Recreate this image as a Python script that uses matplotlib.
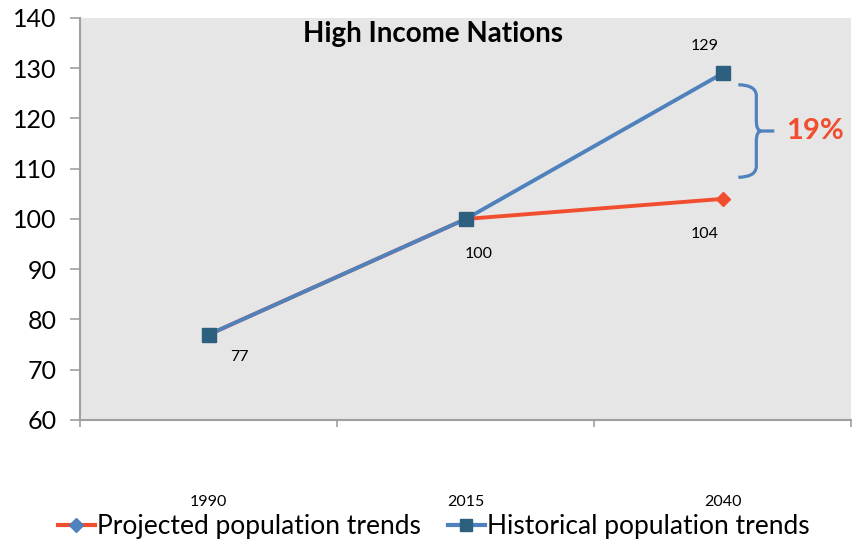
import matplotlib
matplotlib.use("Agg")
import matplotlib.pyplot as plt
from matplotlib.path import Path
from matplotlib.patches import PathPatch
from matplotlib.lines import Line2D

years = ["1990", "2015", "2040"]
projected = [77, 100, 104]
historical = [77, 100, 129]
gap_label = "19%"

plt.rcParams['font.family'] = ['Lato', 'DejaVu Sans']

blue = '#4f81bd'
red = '#f04e2e'
teal = '#2d5f7f'

fig = plt.figure(figsize=(8.54, 5.44), dpi=100)
ax = fig.add_axes([0.094, 0.228, 0.903, 0.739])
ax.set_facecolor('#e6e6e6')

x = list(range(len(years)))
ax.plot(x, projected, color=red, lw=2.8, marker='D', ms=7, mfc=red, mec=red, zorder=3)
ax.plot(x, historical, color=blue, lw=2.8, marker='s', ms=10, mfc=teal, mec=teal, zorder=4)

# value labels
lbl = dict(fontsize=11.5, ha='center', va='center')
ax.text(x[0] + 0.12, historical[0] - 4.5, str(historical[0]), **lbl)
ax.text(x[1] + 0.05, projected[1] - 7, str(projected[1]), **lbl)
ax.text(x[2] - 0.07, projected[2] - 7, str(projected[2]), **lbl)
ax.text(x[2] - 0.07, historical[2] + 5.5, str(historical[2]), **lbl)

# curly brace between the two 2040 values
top, bot = 126.7, 108.3
mid = (top + bot) / 2
x0, x1, x2 = 2.06, 2.13, 2.2
brace = Path([(x0, top), (x1 - 0.005, top), (x1, top - 2), (x1, mid + 2),
              (x1, mid), (x1 + 0.02, mid), (x2, mid)],
             [Path.MOVETO, Path.CURVE3, Path.CURVE3, Path.LINETO,
              Path.CURVE3, Path.CURVE3, Path.LINETO])
brace2 = Path([(x0, bot), (x1 - 0.005, bot), (x1, bot + 2), (x1, mid - 2),
               (x1, mid), (x1 + 0.02, mid)],
              [Path.MOVETO, Path.CURVE3, Path.CURVE3, Path.LINETO,
               Path.CURVE3, Path.CURVE3])
for p in (brace, brace2):
    ax.add_patch(PathPatch(p, fill=False, ec=blue, lw=2.3, capstyle='butt', zorder=2))
ax.text(2.36, mid, gap_label, color=red, fontsize=21, fontweight='bold', ha='center', va='center')

ax.set_title("High Income Nations", fontsize=20, fontweight='bold', y=0.92, x=0.457)

ax.set_xlim(-0.5, 2.5)
ax.set_ylim(60, 140)
ax.set_yticks(range(60, 141, 10))
ax.set_xticks(x)
ax.set_xticklabels(years, fontsize=11.5)
ax.set_xticks([-0.5, 0.5, 1.5, 2.5], minor=True)
ax.tick_params(axis='x', which='major', length=0, pad=54)
ax.tick_params(axis='x', which='minor', length=5, color='#a0a0a0', width=1.2)
ax.tick_params(axis='y', labelsize=18, length=7, color='#a0a0a0', width=1.2, pad=10)

for s in ['top', 'right']:
    ax.spines[s].set_visible(False)
for s in ['left', 'bottom']:
    ax.spines[s].set_color('#a0a0a0')
    ax.spines[s].set_linewidth(1.5)

handles = [Line2D([], [], color=red, lw=3, marker='D', ms=7, mfc=blue, mec=blue),
           Line2D([], [], color=blue, lw=3, marker='s', ms=9, mfc=teal, mec=teal)]
fig.legend(handles, ["Projected population trends", "Historical population trends"],
           loc='center', bbox_to_anchor=(0.508, 0.032), ncol=2, frameon=False,
           fontsize=19, handlelength=1.4, handletextpad=0.1, columnspacing=1.0)

fig.savefig("out.png", dpi=100)
